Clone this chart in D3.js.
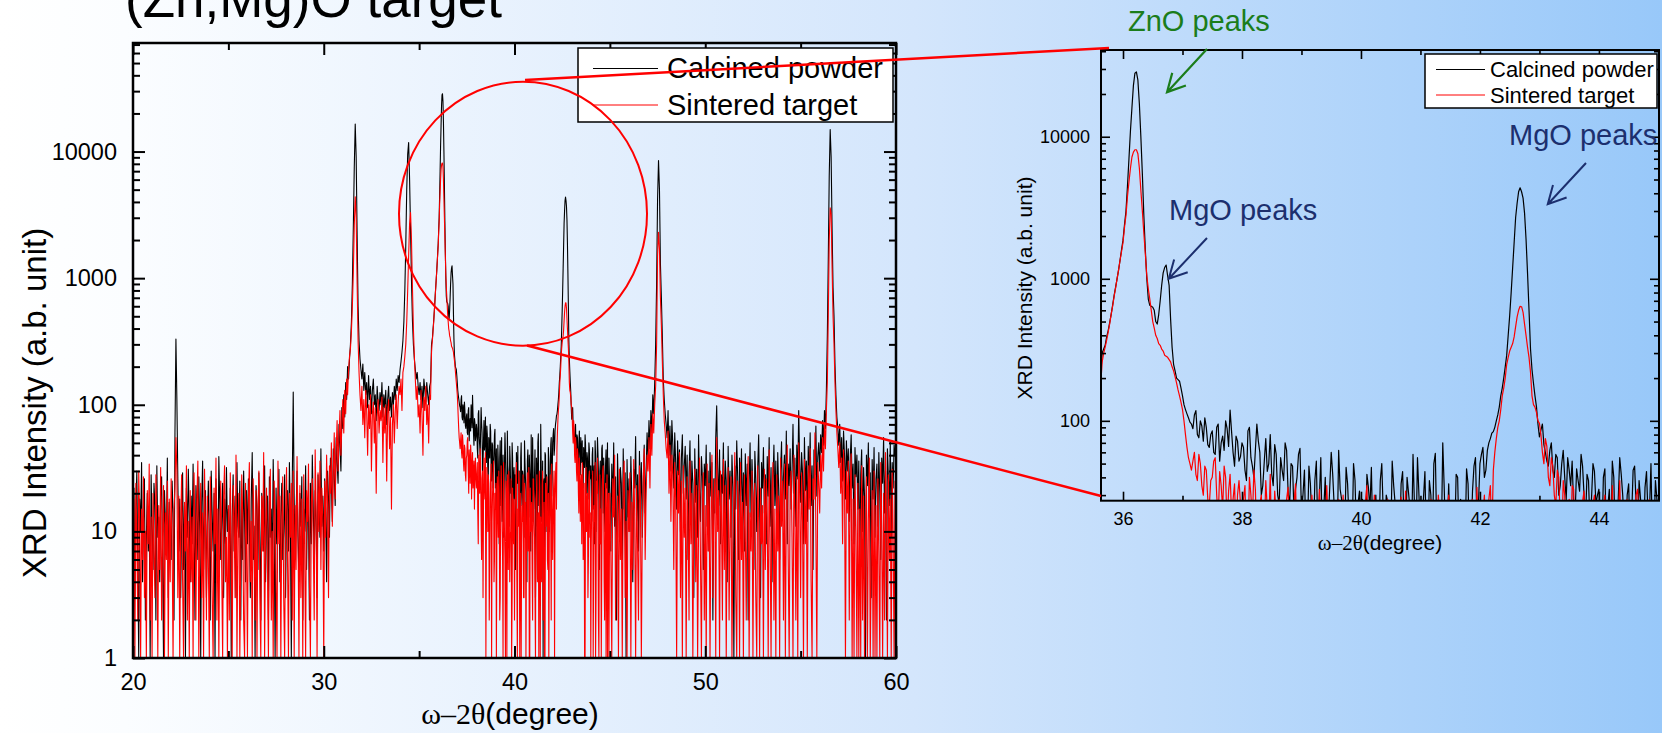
<!DOCTYPE html>
<html>
<head>
<meta charset="utf-8">
<script src="https://cdnjs.cloudflare.com/ajax/libs/d3/7.8.5/d3.min.js"></script>
<style>
  html, body { margin: 0; padding: 0; overflow: hidden; background: #fff; }
  svg { display: block; }
</style>
</head>
<body>
<svg id="chart" width="1662" height="733"></svg>
<script>
// XRD scans, one value every 0.05 deg from 20.00 to 60.00 (counts, a.b. unit)
const scanStart = 20, scanStep = 0.05;

const calcined = [
  8, 22, 3, 14, 30, 6, 1, 18, 10, 35, 4, 12, 26, 2, 9, 20, 7, 15, 1, 28,             // 20
  11, 5, 24, 16, 2, 33, 9, 13, 4, 19, 27, 6, 1, 21, 12, 8, 38, 3, 17, 10,            // 21
  6, 25, 14, 2, 60, 330, 110, 26, 7, 18, 3, 12, 29, 5, 16, 1, 22, 9, 31, 13,         // 22
  4, 19, 8, 34, 12, 2, 23, 15, 6, 27, 10, 1, 17, 36, 5, 13, 21, 3, 11, 25,           // 23
  9, 2, 30, 14, 7, 20, 1, 26, 11, 4, 39, 16, 6, 12, 24, 3, 18, 8, 32, 10,            // 24
  15, 5, 22, 1, 13, 28, 7, 19, 3, 35, 11, 9, 25, 2, 17, 6, 30, 12, 4, 21,            // 25
  8, 26, 13, 3, 18, 42, 6, 11, 1, 23, 16, 5, 29, 10, 2, 20, 14, 7, 33, 4,            // 26
  12, 19, 2, 27, 9, 15, 5, 37, 11, 1, 22, 8, 17, 31, 4, 13, 24, 6, 10, 28,           // 27
  3, 16, 21, 7, 35, 12, 1, 25, 126, 18, 6, 14, 30, 9, 4, 20, 11, 27, 2, 15,          // 28
  10, 33, 5, 18, 13, 2, 24, 8, 40, 15, 6, 21, 12, 3, 28, 17, 9, 45, 11, 19,          // 29
  7, 26, 14, 4, 30, 18, 9, 38, 22, 12, 45, 28, 16, 55, 35, 24, 70, 48, 30, 95,       // 30
  65, 120, 80, 150, 110, 200, 160, 230, 300, 450, 900, 2500, 7500, 16500, 9000, 2200, 600, 320, 230, 190, // 31
  160, 210, 130, 180, 120, 150, 95, 170, 110, 140, 85, 130, 160, 100, 120, 75, 140, 105, 90, 125,       // 32
  100, 150, 80, 120, 95, 130, 70, 110, 140, 90, 115, 80, 125, 100, 140, 110, 160, 130, 170, 150,        // 33
  190, 220, 260, 320, 450, 800, 1800, 5000, 9500, 11800, 6000, 2400, 950, 460, 300, 230, 190, 160, 180, 140, // 34
  120, 150, 110, 140, 95, 160, 130, 105, 150, 120, 100, 140, 150, 300, 340, 430, 560, 760, 1000, 1350,  // 35
  1870, 3000, 7000, 16000, 28000, 25000, 10000, 2800, 1000, 650, 630, 500, 560, 900, 1200, 1050, 520, 250, 200, 190, // 36
  150, 120, 105, 95, 110, 80, 100, 72, 90, 65, 85, 58, 95, 70, 62, 88, 119, 60, 78, 52, // 37
  70, 45, 85, 55, 40, 95, 60, 35, 75, 50, 42, 68, 30, 55, 38, 62, 25, 48, 33, 58,    // 38
  22, 45, 15, 36, 8, 52, 28, 12, 40, 19, 60, 25, 6, 33, 14, 47, 20, 10, 38, 26,      // 39
  18, 5, 42, 24, 12, 30, 2, 50, 16, 27, 9, 35, 21, 4, 44, 13, 31, 7, 25, 55,         // 40
  15, 28, 3, 38, 11, 59, 20, 8, 33, 17, 1, 26, 42, 10, 22, 6, 36, 14, 48, 19,        // 41
  50, 65, 45, 70, 82, 90, 110, 150, 200, 290, 550, 1200, 2700, 4100, 4100, 2900, 1100, 320, 184, 126, // 42
  77, 95, 60, 48, 70, 40, 55, 35, 62, 28, 45, 52, 22, 38, 58, 30, 42, 18, 50, 26,    // 43
  33, 12, 46, 25, 8, 40, 18, 55, 30, 5, 36, 21, 48, 14, 28, 10, 44, 23, 3, 38,       // 44
  20, 7, 34, 16, 50, 11, 27, 2, 41, 19, 9, 32, 24, 6, 45, 15, 29, 1, 37, 13,         // 45
  26, 10, 39, 18, 4, 31, 22, 56, 12, 28, 7, 43, 17, 35, 9, 24, 48, 14, 30, 60,       // 46
  38, 75, 45, 90, 60, 120, 85, 150, 300, 900, 4200, 8500, 5000, 1300, 700, 350, 160, 110, 85, 70, // 47
  55, 90, 40, 68, 30, 75, 48, 22, 60, 35, 15, 52, 28, 44, 10, 38, 58, 20, 33, 47,    // 48
  18, 40, 6, 29, 52, 13, 36, 24, 3, 45, 17, 31, 9, 58, 21, 12, 39, 27, 5, 34,        // 49
  23, 48, 11, 30, 7, 42, 19, 35, 2, 26, 14, 55, 98, 32, 16, 44, 8, 28, 20, 50,       // 50
  12, 36, 25, 4, 47, 18, 30, 9, 40, 22, 1, 33, 15, 52, 27, 6, 38, 19, 45, 11,        // 51
  29, 7, 41, 16, 34, 2, 24, 50, 13, 37, 20, 5, 43, 26, 10, 31, 58, 17, 3, 35,        // 52
  22, 46, 14, 28, 8, 39, 19, 55, 11, 32, 4, 25, 48, 16, 36, 9, 42, 21, 6, 30,        // 53
  51, 13, 27, 40, 18, 62, 8, 34, 23, 45, 15, 30, 70, 20, 38, 11, 48, 26, 90, 35,     // 54
  17, 42, 29, 8, 55, 21, 36, 12, 47, 25, 60, 16, 33, 5, 44, 28, 68, 19, 39, 50,      // 55
  30, 58, 42, 75, 48, 90, 65, 130, 350, 1400, 6500, 14900, 9000, 2400, 840, 500, 210, 120, 80, 65, // 56
  48, 70, 35, 55, 25, 62, 40, 18, 52, 30, 45, 12, 38, 58, 22, 34, 8, 46, 27, 40,     // 57
  15, 36, 5, 28, 44, 10, 32, 19, 1, 40, 23, 50, 13, 29, 3, 37, 18, 46, 9, 26,        // 58
  34, 11, 42, 20, 6, 38, 24, 55, 14, 30, 2, 45, 27, 16, 52, 9, 35, 22, 48, 40,       // 59
  50
];

const sintered = [
  5, 18, 1, 24, 9, 2, 30, 12, 1, 15, 6, 27, 3, 10, 1, 21, 8, 34, 2, 13,              // 20
  1, 20, 7, 3, 28, 11, 1, 16, 5, 32, 2, 9, 23, 1, 14, 6, 25, 1, 18, 4,               // 21
  26, 8, 1, 15, 22, 55, 30, 3, 19, 1, 11, 28, 4, 1, 17, 7, 33, 2, 12, 1,             // 22
  21, 4, 13, 1, 29, 9, 2, 18, 36, 1, 7, 24, 3, 14, 1, 31, 10, 2, 19, 6,              // 23
  1, 27, 12, 3, 1, 22, 8, 38, 2, 15, 1, 11, 25, 5, 1, 19, 33, 4, 9, 1,               // 24
  16, 2, 29, 7, 1, 23, 13, 3, 40, 1, 10, 20, 1, 6, 28, 14, 2, 1, 24, 8,              // 25
  1, 18, 35, 4, 12, 1, 26, 9, 2, 21, 1, 15, 30, 3, 1, 19, 7, 42, 1, 11,              // 26
  22, 5, 1, 17, 31, 2, 10, 1, 25, 13, 4, 1, 36, 8, 19, 1, 12, 27, 3, 1,              // 27
  14, 32, 6, 1, 20, 9, 24, 2, 30, 1, 16, 5, 39, 11, 1, 23, 3, 18, 1, 28,             // 28
  7, 1, 21, 12, 34, 4, 1, 17, 26, 8, 2, 44, 15, 1, 29, 10, 36, 5, 22, 13,            // 29
  1, 25, 9, 40, 16, 3, 33, 20, 50, 11, 28, 60, 18, 42, 75, 30, 55, 90, 40, 70,       // 30
  110, 60, 130, 85, 160, 120, 190, 240, 280, 380, 600, 1100, 2600, 4400, 3000, 900, 320, 180, 120, 90, // 31
  140, 70, 110, 55, 130, 90, 40, 100, 65, 120, 30, 85, 105, 50, 95, 20, 80, 110, 60, 90,  // 32
  75, 115, 35, 95, 60, 100, 25, 85, 110, 45, 80, 15, 70, 100, 50, 90, 120, 65, 105, 140,  // 33
  120, 160, 90, 180, 200, 240, 300, 450, 800, 1500, 2700, 3300, 2000, 850, 400, 240, 160, 110, 140, 80, // 34
  100, 60, 130, 85, 40, 115, 90, 140, 70, 100, 50, 120, 110, 260, 330, 420, 560, 750, 1000, 1350, // 35
  1800, 2800, 4800, 7200, 8100, 7600, 4200, 2100, 1050, 720, 500, 400, 350, 320, 290, 280, 260, 225, 185, 150, // 36
  120, 80, 55, 45, 60, 38, 50, 30, 45, 25, 40, 55, 20, 35, 48, 18, 42, 28, 15, 38,   // 37
  22, 35, 8, 30, 45, 12, 26, 3, 38, 18, 1, 32, 10, 24, 5, 28, 1, 20, 36, 6,          // 38
  15, 1, 27, 9, 20, 3, 33, 12, 1, 18, 6, 25, 1, 14, 30, 4, 10, 1, 22, 8,             // 39
  2, 19, 35, 1, 11, 24, 5, 1, 16, 28, 3, 13, 1, 21, 7, 32, 1, 10, 17, 2,             // 40
  26, 9, 1, 20, 4, 14, 30, 1, 8, 23, 2, 17, 1, 11, 27, 5, 1, 19, 12, 34,             // 41
  6, 22, 1, 28, 15, 60, 90, 120, 170, 250, 310, 350, 460, 600, 636, 480, 330, 220, 130, 115, // 42
  96, 60, 75, 40, 55, 30, 45, 20, 38, 12, 28, 35, 6, 24, 1, 32, 15, 3, 26, 9,        // 43
  1, 18, 30, 5, 12, 1, 25, 38, 2, 16, 8, 1, 22, 33, 4, 11, 1, 28, 14, 1,             // 44
  20, 7, 1, 26, 13, 40, 2, 9, 19, 1, 31, 6, 15, 1, 24, 36, 3, 12, 1, 21,             // 45
  10, 29, 1, 17, 5, 37, 14, 1, 23, 8, 2, 33, 19, 1, 11, 27, 45, 6, 20, 40,           // 46
  30, 55, 22, 70, 40, 85, 60, 100, 140, 300, 1500, 2300, 1700, 700, 420, 220, 120, 75, 60, 45, // 47
  38, 62, 20, 48, 12, 40, 28, 5, 35, 18, 1, 30, 14, 42, 3, 25, 1, 33, 9, 22,         // 48
  1, 27, 13, 2, 36, 8, 20, 1, 15, 31, 4, 23, 1, 11, 38, 6, 1, 19, 29, 2,             // 49
  16, 1, 34, 7, 24, 1, 12, 40, 3, 18, 26, 1, 55, 10, 21, 1, 30, 14, 2, 37,           // 50
  5, 23, 1, 15, 32, 2, 11, 27, 1, 8, 19, 42, 3, 1, 25, 13, 1, 35, 6, 17,             // 51
  1, 28, 10, 2, 21, 39, 1, 14, 7, 30, 1, 18, 24, 3, 1, 33, 12, 1, 22, 8,             // 52
  16, 1, 31, 5, 26, 13, 1, 44, 9, 1, 20, 35, 2, 15, 1, 28, 7, 19, 1, 38,             // 53
  11, 25, 2, 34, 1, 17, 48, 6, 1, 22, 30, 9, 1, 40, 14, 2, 27, 1, 50, 19,            // 54
  3, 29, 12, 1, 37, 8, 21, 1, 33, 15, 45, 4, 1, 26, 18, 60, 10, 1, 35, 24,           // 55
  14, 40, 22, 55, 30, 70, 45, 90, 150, 500, 2000, 3600, 3200, 1200, 500, 300, 150, 90, 60, 45, // 56
  32, 50, 20, 38, 8, 44, 25, 1, 30, 14, 36, 2, 22, 41, 1, 18, 1, 28, 10, 1,          // 57
  24, 1, 15, 1, 33, 2, 19, 1, 8, 27, 1, 12, 38, 1, 5, 21, 1, 30, 1, 16,              // 58
  1, 26, 7, 1, 35, 11, 1, 20, 2, 42, 13, 1, 28, 6, 18, 1, 31, 9, 1, 25,              // 59
  20
];

// extra readings in the zoomed range, halfway between the grid points: 35.625, 35.675 ... 44.975
const fineStart = 35.625;

const calcinedFine = [
  210, 320, 390, 490, 650, 870, 1150, 1600,                                          // 35.6-35.9
  2400, 4500, 11000, 23000, 28600, 17000, 5500, 1600, 720, 640, 600, 480, 700, 1100, 1250, 900, 330, 225, 195, 170, // 36
  130, 112, 98, 88, 118, 76, 92, 105, 68, 80, 60, 90, 52, 78, 100, 66, 84, 48, 72, 56,         // 37
  65, 38, 90, 48, 62, 72, 30, 52, 44, 80, 35, 58, 26, 45, 70, 32, 50, 22, 40, 64,              // 38
  30, 12, 48, 20, 38, 16, 55, 24, 9, 34, 42, 18, 62, 28, 11, 36, 25, 50, 15, 32,               // 39
  28, 10, 34, 47, 20, 6, 38, 22, 30, 14, 52, 26, 8, 36, 18, 40, 24, 58, 12, 30,                // 40
  22, 44, 8, 30, 50, 16, 26, 70, 12, 36, 24, 5, 40, 28, 18, 46, 10, 32, 55, 26,                // 41
  58, 40, 62, 75, 84, 100, 125, 170, 240, 400, 800, 1800, 3400, 4370, 3700, 1900, 600, 230, 150, 95, // 42
  86, 68, 52, 62, 45, 58, 30, 50, 40, 55, 35, 25, 46, 32, 48, 20, 38, 28, 44, 30,              // 43
  20, 40, 15, 33, 52, 10, 28, 42, 18, 30, 8, 45, 26, 38, 12, 34, 22, 50, 16, 28                // 44
];

const sinteredFine = [
  180, 300, 370, 480, 640, 860, 1150, 1550,                                          // 35.6-35.9
  2300, 3800, 6000, 7800, 8100, 6000, 3000, 1500, 850, 600, 450, 380, 340, 310, 285, 270, 240, 205, 165, 135, // 36
  100, 65, 50, 52, 42, 58, 35, 48, 28, 38, 52, 30, 44, 24, 40, 32, 22, 36, 30, 26,             // 37
  28, 14, 40, 20, 33, 6, 30, 16, 24, 42, 9, 22, 28, 2, 18, 34, 12, 26, 4, 20,                  // 38
  24, 8, 18, 30, 2, 14, 22, 6, 35, 10, 1, 20, 28, 5, 16, 9, 26, 3, 12, 18,                     // 39
  10, 27, 4, 15, 30, 1, 20, 8, 12, 3, 24, 17, 6, 29, 11, 1, 22, 14, 5, 26,                     // 40
  12, 3, 18, 28, 7, 1, 22, 13, 4, 30, 10, 1, 24, 16, 6, 20, 9, 28, 2, 15,                      // 41
  12, 30, 18, 35, 45, 75, 100, 150, 200, 280, 330, 390, 540, 640, 580, 400, 280, 150, 125, 100, // 42
  80, 50, 66, 35, 48, 25, 40, 14, 30, 22, 8, 33, 18, 1, 27, 10, 20, 6, 30, 14,                 // 43
  8, 24, 1, 16, 35, 3, 20, 12, 1, 28, 15, 5, 30, 18, 2, 24, 9, 1, 20, 6                        // 44
];

const seriesNames = ['Calcined powder', 'Sintered target'];
const seriesColors = ['#000000', '#ff0000'];

const FONT = "'Liberation Sans', Arial, sans-serif";
const SERIF = "'Liberation Serif', 'Times New Roman', serif";

const svg = d3.select('#chart');
const defs = svg.append('defs');

// slide background
const bg = defs.append('linearGradient').attr('id', 'slideBg')
  .attr('x1', 0).attr('x2', 1).attr('y1', 0).attr('y2', 0);
[[0, '#ffffff'], [0.075, '#fbfdff'], [0.55, '#d4e6fc'], [1, '#98c8f9']].forEach(s =>
  bg.append('stop').attr('offset', s[0]).attr('stop-color', s[1]));
svg.append('rect').attr('width', 1662).attr('height', 733).attr('fill', 'url(#slideBg)');

svg.append('text').attr('x', 125).attr('y', 17)
  .attr('font-family', FONT).attr('font-size', 53).attr('fill', '#000')
  .text('(Zn,Mg)O target');

const series = [[calcined, calcinedFine], [sintered, sinteredFine]].map(([vals, fine], k) => ({
  name: seriesNames[k],
  color: seriesColors[k],
  points: vals.map((v, i) => [scanStart + i * scanStep, v])
    .concat(fine.map((v, i) => [fineStart + i * scanStep, v]))
    .sort((a, b) => a[0] - b[0])
}));

function drawPanel(o) {
  const g = svg.append('g');
  const x = d3.scaleLinear().domain(o.xDomain).range([o.left, o.right]);
  const y = d3.scaleLog().domain(o.yDomain).range([o.bottom, o.top]);

  defs.append('clipPath').attr('id', o.id + 'Clip').append('rect')
    .attr('x', o.left).attr('y', o.top)
    .attr('width', o.right - o.left).attr('height', o.bottom - o.top);

  const line = d3.line()
    .x(d => x(d[0]))
    .y(d => y(Math.max(d[1], o.yDomain[0] * 0.5)));

  const plot = g.append('g').attr('clip-path', `url(#${o.id}Clip)`);
  series.forEach(s => {
    const pts = s.points.filter(p => p[0] >= o.xDomain[0] - 0.1 && p[0] <= o.xDomain[1] + 0.1);
    plot.append('path').datum(pts)
      .attr('fill', 'none').attr('stroke', s.color)
      .attr('stroke-width', o.lineWidth).attr('stroke-linejoin', 'round')
      .attr('d', line);
  });

  // ticks, all pointing inwards on the four sides
  const xt = d3.range(Math.ceil(o.xDomain[0] / o.minorX) * o.minorX, o.xDomain[1] + 1e-6, o.minorX);
  const isMajX = v => Math.abs(v / o.majorX - Math.round(v / o.majorX)) < 1e-6;
  const yt = y.ticks();
  const isMajY = v => Math.abs(Math.log10(v) - Math.round(Math.log10(v))) < 1e-6;

  function axis(fn, scale, vals, len, labelled, pad, tr) {
    const a = fn(scale).tickValues(vals).tickSizeInner(-len).tickSizeOuter(0)
      .tickPadding(pad).tickFormat(labelled ? d3.format('d') : '');
    const ag = g.append('g').attr('transform', tr).call(a);
    ag.select('.domain').remove();
    ag.selectAll('line').attr('stroke', '#000').attr('stroke-width', o.tickWidth);
    ag.attr('font-family', FONT).attr('font-size', o.tickFont);
    ag.selectAll('text').attr('fill', '#000');
  }
  const bx = `translate(0,${o.bottom})`, tx = `translate(0,${o.top})`;
  const ly = `translate(${o.left},0)`, ry = `translate(${o.right},0)`;
  axis(d3.axisBottom, x, xt.filter(isMajX), o.majorLen, true, o.xPad, bx);
  axis(d3.axisBottom, x, xt.filter(v => !isMajX(v)), o.minorLen, false, 0, bx);
  axis(d3.axisTop, x, xt.filter(isMajX), o.majorLen, false, 0, tx);
  axis(d3.axisTop, x, xt.filter(v => !isMajX(v)), o.minorLen, false, 0, tx);
  axis(d3.axisLeft, y, yt.filter(isMajY), o.majorLen, true, o.yPad, ly);
  axis(d3.axisLeft, y, yt.filter(v => !isMajY(v)), o.minorLen, false, 0, ly);
  axis(d3.axisRight, y, yt.filter(isMajY), o.majorLen, false, 0, ry);
  axis(d3.axisRight, y, yt.filter(v => !isMajY(v)), o.minorLen, false, 0, ry);

  g.append('rect').attr('x', o.left).attr('y', o.top)
    .attr('width', o.right - o.left).attr('height', o.bottom - o.top)
    .attr('fill', 'none').attr('stroke', '#000').attr('stroke-width', o.frameWidth);

  // axis titles
  const xl = g.append('text').attr('x', o.xTitle[0]).attr('y', o.xTitle[1])
    .attr('text-anchor', 'middle').attr('font-size', o.xTitleFont).attr('fill', '#000');
  xl.append('tspan').attr('font-family', SERIF).text('\u03c9\u20132\u03b8');
  xl.append('tspan').attr('font-family', FONT).text('(degree)');

  g.append('text')
    .attr('transform', `translate(${o.yTitle[0]},${o.yTitle[1]}) rotate(-90)`)
    .attr('text-anchor', 'middle').attr('dy', '0.35em')
    .attr('font-family', FONT).attr('font-size', o.yTitleFont).attr('fill', '#000')
    .text('XRD Intensity (a.b. unit)');

  // legend
  const L = o.legend;
  g.append('rect').attr('x', L.x).attr('y', L.y).attr('width', L.w).attr('height', L.h)
    .attr('fill', '#fff').attr('stroke', '#000').attr('stroke-width', 1.5);
  series.forEach((s, k) => {
    g.append('line').attr('x1', L.lineX[0]).attr('x2', L.lineX[1])
      .attr('y1', L.lineY[k]).attr('y2', L.lineY[k])
      .attr('stroke', s.color).attr('stroke-width', 1);
    g.append('text').attr('x', L.textX).attr('y', L.textY[k])
      .attr('font-family', FONT).attr('font-size', L.font).attr('fill', '#000')
      .text(s.name);
  });
  return { x, y };
}

const main = drawPanel({
  id: 'main', left: 133, right: 896, top: 43, bottom: 658,
  xDomain: [20, 60], yDomain: [1, 72000], majorX: 10, minorX: 5,
  tickFont: 23.5, xTitleFont: 30, yTitleFont: 33, majorLen: 12, minorLen: 7, tickWidth: 2,
  frameWidth: 2.5, lineWidth: 1.1, xPad: 15, yPad: 16,
  xTitle: [510, 724], yTitle: [34, 403],
  legend: { x: 578, y: 48, w: 315, h: 74, lineX: [593, 658], lineY: [68.5, 105],
            textX: 667, textY: [78, 115], font: 29 }
});

const inset = drawPanel({
  id: 'inset', left: 1101, right: 1659, top: 50, bottom: 500.7,
  xDomain: [35.63, 45.01], yDomain: [27.4, 40800], majorX: 2, minorX: 1,
  tickFont: 18, xTitleFont: 21, yTitleFont: 21, majorLen: 9, minorLen: 5, tickWidth: 1.6,
  frameWidth: 2, lineWidth: 1.2, xPad: 12, yPad: 11,
  xTitle: [1380, 550], yTitle: [1025, 288],
  legend: { x: 1425, y: 54, w: 232, h: 54, lineX: [1436, 1485], lineY: [69.5, 95],
            textX: 1490, textY: [77, 103], font: 22 }
});

// zoom marker: circle on the main plot and lines to the inset
svg.append('ellipse').attr('cx', 523).attr('cy', 213.7).attr('rx', 124).attr('ry', 132)
  .attr('fill', 'none').attr('stroke', '#ff0000').attr('stroke-width', 2);
svg.append('line').attr('x1', 525).attr('y1', 80).attr('x2', 1109).attr('y2', 48)
  .attr('stroke', '#ff0000').attr('stroke-width', 2.5);
svg.append('line').attr('x1', 527).attr('y1', 345.5).attr('x2', 1101).attr('y2', 496)
  .attr('stroke', '#ff0000').attr('stroke-width', 2.5);

// annotations
function arrow(x1, y1, x2, y2, color, w) {
  const ang = Math.atan2(y1 - y2, x1 - x2), hl = 20, ha = Math.PI / 6.5;
  const p = d3.path();
  p.moveTo(x1, y1); p.lineTo(x2, y2);
  p.moveTo(x2 + hl * Math.cos(ang - ha), y2 + hl * Math.sin(ang - ha));
  p.lineTo(x2, y2);
  p.lineTo(x2 + hl * Math.cos(ang + ha), y2 + hl * Math.sin(ang + ha));
  svg.append('path').attr('d', p.toString()).attr('fill', 'none')
    .attr('stroke', color).attr('stroke-width', w);
}
function label(x, y, txt, color) {
  svg.append('text').attr('x', x).attr('y', y)
    .attr('font-family', FONT).attr('font-size', 29).attr('fill', color).text(txt);
}
const green = '#1b7d1b', navy = '#1c2f6e';
label(1128, 31, 'ZnO peaks', green);
arrow(1207, 49, inset.x(36.74), inset.y(20600), green, 2.2);
label(1169, 220, 'MgO peaks', navy);
arrow(1207, 238, inset.x(36.77), inset.y(1000), navy, 2);
label(1509, 145, 'MgO peaks', navy);
arrow(1586, 163, inset.x(43.14), inset.y(3350), navy, 2);
</script>
</body>
</html>
